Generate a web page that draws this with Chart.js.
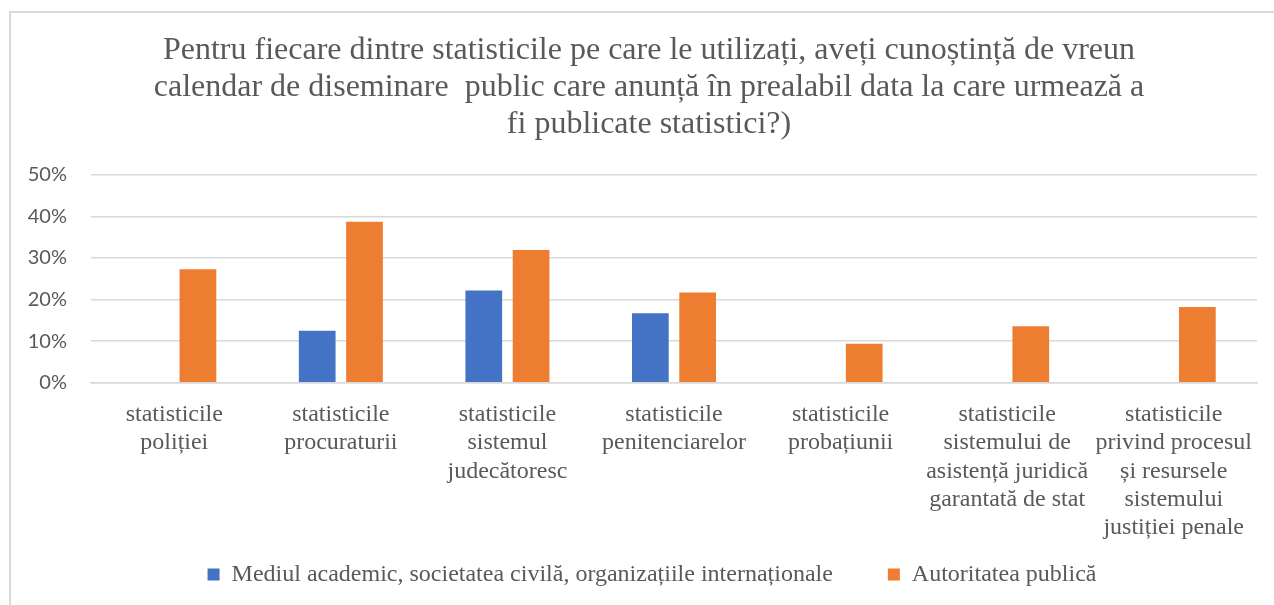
<!DOCTYPE html>
<html>
<head>
<meta charset="utf-8">
<script src="https://cdn.jsdelivr.net/npm/chart.js@4"></script>
<style>
  body { margin: 0; background: #fff; }
  #frame { position: absolute; left: 9px; top: 11px; width: 1300px; height: 640px; border-left: 2px solid #d9d9d9; border-top: 2px solid #d9d9d9; }
  #wrap { position: absolute; left: 0; top: 0; width: 1274px; height: 605px; }
</style>
</head>
<body>
<div id="frame"></div>
<div id="wrap"><canvas id="chart"></canvas></div>
<script>
const titleLines = [
  'Pentru fiecare dintre statisticile pe care le utilizați, aveți cunoștință de vreun',
  'calendar de diseminare  public care anunță în prealabil data la care urmează a',
  'fi publicate statistici?)'
];

const categories = [
  ['statisticile', 'poliției'],
  ['statisticile', 'procuraturii'],
  ['statisticile', 'sistemul', 'judecătoresc'],
  ['statisticile', 'penitenciarelor'],
  ['statisticile', 'probațiunii'],
  ['statisticile', 'sistemului de', 'asistență juridică', 'garantată de stat'],
  ['statisticile', 'privind procesul', 'și resursele', 'sistemului', 'justiției penale']
];

const seriesNames = ['Mediul academic, societatea civilă, organizațiile internaționale', 'Autoritatea publică'];
const academicValues = [0, 12.5, 22.2, 16.7, 0, 0, 0];
const publicValues = [27.3, 38.7, 31.9, 21.7, 9.4, 13.6, 18.2];

const yTicks = [0, 10, 20, 30, 40, 50];

const textColor = '#595959';
const gridColor = '#d9d9d9';
const legendGap = 55;

// Excel centres the title/legend a bit right of where chart.js would put them,
// and the legend sits lower than its padding allows, so nudge the boxes after layout
const nudgeBoxes = {
  id: 'nudgeBoxes',
  afterLayout(chart) {
    chart.titleBlock.left = 2 * 649 - chart.titleBlock.right;
    chart.legend.left = 47;
    chart.legend.top = 574.5 - legendGap - 12;
  }
};

new Chart(document.getElementById('chart'), {
  type: 'bar',
  data: {
    labels: categories,
    datasets: [
      {
        label: seriesNames[0],
        data: academicValues,
        backgroundColor: '#4472C4',
        borderWidth: 0,
        categoryPercentage: 0.568,
        barPercentage: 0.776
      },
      {
        label: seriesNames[1],
        data: publicValues,
        backgroundColor: '#ED7D31',
        borderWidth: 0,
        categoryPercentage: 0.568,
        barPercentage: 0.776
      }
    ]
  },
  options: {
    responsive: true,
    maintainAspectRatio: false,
    animation: false,
    layout: { padding: { left: 20, right: 17, top: 0, bottom: 8 } },
    plugins: {
      tooltip: { enabled: false },
      title: {
        display: true,
        text: titleLines,
        color: textColor,
        font: { family: '"Liberation Serif", serif', size: 32, weight: 'normal', lineHeight: 1.15 },
        padding: { top: 32.5, bottom: 32 }
      },
      legend: {
        position: 'bottom',
        maxHeight: 46,
        labels: {
          color: textColor,
          font: { family: '"Liberation Serif", serif', size: 24 },
          boxWidth: 12,
          boxHeight: 12,
          padding: legendGap
        }
      }
    },
    scales: {
      x: {
        grid: { display: false, drawTicks: false },
        border: { display: true, color: gridColor, width: 1.5 },
        ticks: {
          color: textColor,
          font: { family: '"Liberation Serif", serif', size: 24, lineHeight: 1.18 },
          maxRotation: 0,
          autoSkip: false,
          padding: 18
        },
        afterFit: (scale) => { scale.height = 168.3; }
      },
      y: {
        min: 0,
        max: 50,
        border: { display: false },
        grid: { color: gridColor, lineWidth: 1.5, drawTicks: false },
        afterBuildTicks: (scale) => { scale.ticks = yTicks.map(v => ({ value: v })); },
        ticks: {
          color: textColor,
          font: { family: 'Lato, sans-serif', size: 20 },
          padding: 24,
          callback: (v) => v + '%'
        },
        afterFit: (scale) => { scale.width = 71; }
      }
    }
  },
  plugins: [nudgeBoxes]
});
</script>
</body>
</html>
